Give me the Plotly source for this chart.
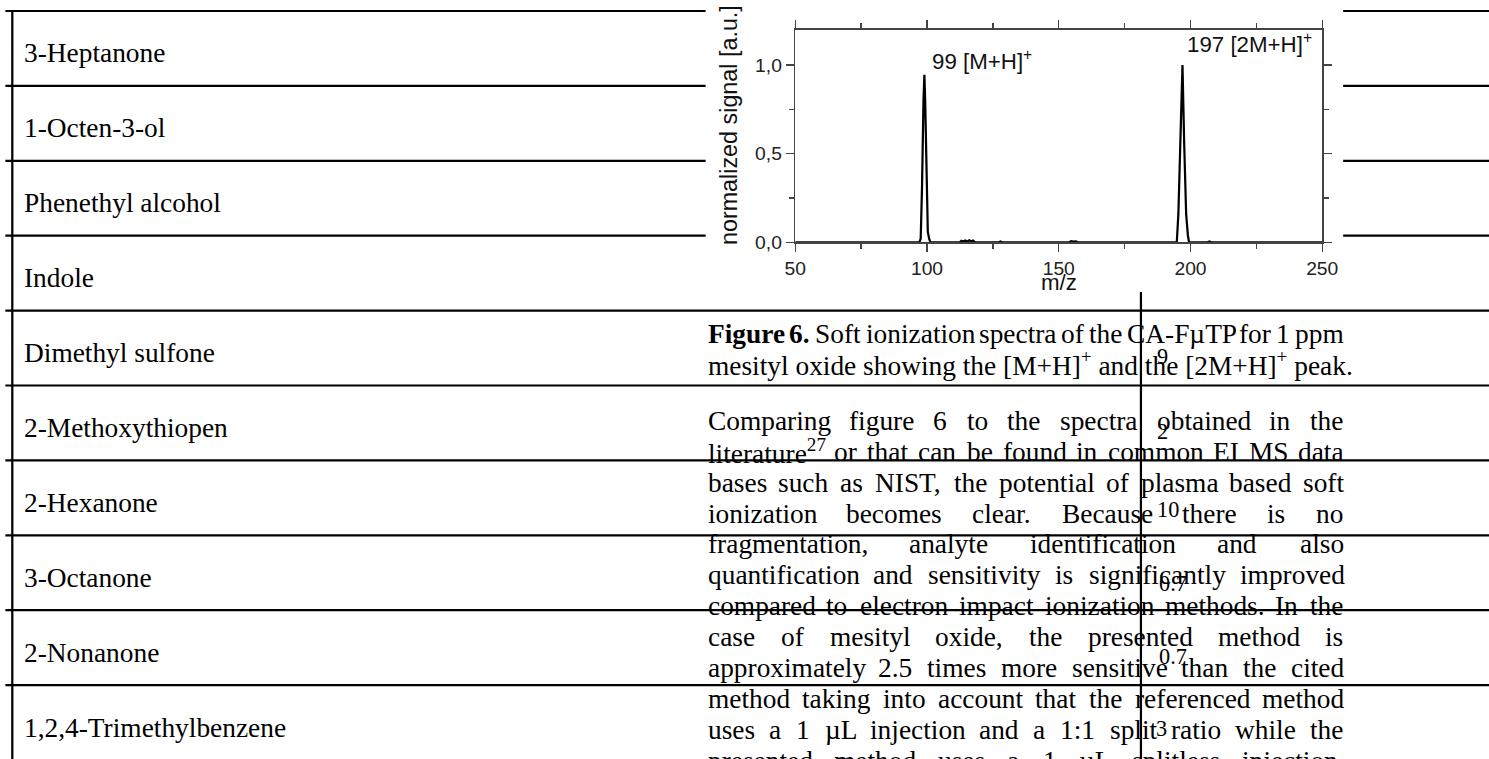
import re
import plotly.graph_objects as go

# ---------------- data ----------------
mz = [50, 57.5, 58.5, 59.5, 60.5, 97.1, 97.6, 98.1, 98.65, 99.0, 99.3, 99.65, 100.0, 100.3,
      100.8, 101.3, 112.5, 113.0, 113.8, 114.5, 115.3, 116.0, 116.8, 117.5, 118.2, 127.3,
      127.9, 128.5, 154.0, 154.7, 155.6, 156.5, 157.2, 194.8, 195.4, 196.05, 196.96, 197.6,
      198.35, 199.0, 199.45, 206.5, 207.2, 207.9, 212.8, 213.4, 214.0, 218.6, 219.2, 219.8, 250]
signal = [0.0, 0.0, 0.004, 0.004, 0.0, 0.0, 0.02, 0.31, 0.80, 0.945, 0.80, 0.55, 0.20, 0.06,
          0.02, 0.0, 0.0, 0.008, 0.004, 0.010, 0.005, 0.011, 0.006, 0.010, 0.0, 0.0,
          0.005, 0.0, 0.0, 0.006, 0.004, 0.005, 0.0, 0.0, 0.16, 0.56, 1.0, 0.56,
          0.16, 0.04, 0.0, 0.0, 0.005, 0.0, 0.0, 0.003, 0.0, 0.0, 0.003, 0.0, 0.0]

peak_labels = ["99 [M+H]<sup>+</sup>", "197 [2M+H]<sup>+</sup>"]
peak_label_x = [101.0, 197.8]
peak_label_y = [0.94, 1.036]

x_title = "m/z"
y_title = "normalized signal [a.u.]"

table_labels = ["3-Heptanone", "1-Octen-3-ol", "Phenethyl alcohol", "Indole",
                "Dimethyl sulfone", "2-Methoxythiopen", "2-Hexanone", "3-Octanone",
                "2-Nonanone", "1,2,4-Trimethylbenzene"]

caption_lines = [
    "<b>Figure</b> <b>6.</b> Soft ionization spectra of the CA-FµTP for 1 ppm",
    "mesityl oxide showing the [M+H]<sup>+</sup> and the [2M+H]<sup>+</sup> peak.",
]
caption_justify = [True, False]

para_lines = [
    "Comparing figure 6 to the spectra obtained in the",
    "literature<sup>27</sup> or that can be found in common EI MS data",
    "bases such as NIST, the potential of plasma based soft",
    "ionization becomes clear. Because there is no",
    "fragmentation, analyte identification and also",
    "quantification and sensitivity is significantly improved",
    "compared to electron impact ionization methods. In the",
    "case of mesityl oxide, the presented method is",
    "approximately 2.5 times more sensitive than the cited",
    "method taking into account that the referenced method",
    "uses a 1 µL injection and a 1:1 split ratio while the",
    "presented method uses a 1 µL splitless injection.",
]

stray_values = ["9", "2", "10", "0.7", "0.7", "3"]

# ---------------- page geometry ----------------
# The page is captured 11 px taller than the window and fitted back into 1489x759,
# so everything is laid out in reference pixels and mapped through that fit.
REF_W, REF_H = 1489, 759
FW, FH = 1489, 770
S = REF_H / FH
OX = (FW - FW * S) / 2


def px(x):
    return ((x - OX) / S) / FW


def py(y):
    return 1 - (y / S) / FH


def sz(v):
    return v / S


TR = {' ': 250, ',': 250, '-': 333, '.': 250, '/': 278, ':': 278, '+': 564, '[': 333, ']': 333,
      '(': 333, ')': 333, 'µ': 500,
      'A': 722, 'B': 667, 'C': 667, 'D': 722, 'E': 611, 'F': 556, 'G': 722, 'H': 722, 'I': 333,
      'J': 389, 'K': 722, 'L': 611, 'M': 889, 'N': 722, 'O': 722, 'P': 556, 'Q': 722, 'R': 667,
      'S': 556, 'T': 611, 'U': 722, 'V': 722, 'W': 944, 'X': 722, 'Y': 722, 'Z': 611,
      'a': 444, 'b': 500, 'c': 444, 'd': 500, 'e': 444, 'f': 333, 'g': 500, 'h': 500, 'i': 278,
      'j': 278, 'k': 500, 'l': 278, 'm': 778, 'n': 500, 'o': 500, 'p': 500, 'q': 500, 'r': 333,
      's': 389, 't': 278, 'u': 500, 'v': 500, 'w': 722, 'x': 500, 'y': 500, 'z': 444}
TB = {'F': 611, 'i': 278, 'g': 500, 'u': 556, 'r': 444, 'e': 444, '6': 500, '.': 250, ' ': 250}


def word_width(w, size):
    total = 0.0
    mode = 'r'
    for tok in re.split(r'(<[^>]+>)', w):
        if tok.startswith('<'):
            if tok == '<b>':
                mode = 'b'
            elif tok == '<sup>':
                mode = 's'
            else:
                mode = 'r'
            continue
        for ch in tok:
            if mode == 'b':
                total += TB.get(ch, 500) * size / 1000
            elif mode == 's':
                total += TR.get(ch, 500) * size * 0.7 / 1000
            else:
                total += TR.get(ch, 500) * size / 1000
    return total


SERIF = "Liberation Serif, Times New Roman, serif"
SANS = "Liberation Sans, Arial, sans-serif"
FS = 27
annotations = []
shapes = []


def add_text(x, baseline, text, size=FS, family=SERIF):
    annotations.append(dict(
        x=px(x), y=py(baseline - 0.3375 * size), xref="paper", yref="paper",
        text=text, showarrow=False, xanchor="left", yanchor="middle",
        font=dict(family=family, size=sz(size), color="black"), borderpad=0))


def add_line(baseline, line, left, right, justify):
    words = line.split(" ")
    if not justify or len(words) == 1:
        add_text(left, baseline, line)
        return
    widths = [word_width(w, FS) for w in words]
    gap = (right - left - sum(widths)) / (len(words) - 1)
    pos = left
    for w, wd in zip(words, widths):
        add_text(pos, baseline, w)
        pos += wd + gap


def hline(y, x0, x1, w=2.2):
    shapes.append(dict(type="line", xref="paper", yref="paper", x0=px(x0), x1=px(x1),
                       y0=py(y), y1=py(y), line=dict(color="black", width=sz(w))))


def vline(x, y0, y1, w=2.2):
    shapes.append(dict(type="line", xref="paper", yref="paper", x0=px(x), x1=px(x),
                       y0=py(y0), y1=py(y1), line=dict(color="black", width=sz(w))))


# ---------------- page structure ----------------
row_top = 11
row_h = 74.9
RIGHT = REF_W + 20
for k in range(10):
    y = row_top + row_h * k
    if y < 290:
        hline(y, 5, 708)
        hline(y, 1348, RIGHT)
    else:
        hline(y, 5, RIGHT)
vline(max(9, OX + 1.3), 11, REF_H + 20)
vline(1145, 292, REF_H + 20)

for k, lab in enumerate(table_labels):
    add_text(23, row_top + row_h * k + 51.6, lab)

COL_L, COL_R = 709, 1347
cap_base = [342.7, 372.2]
for b, line, j in zip(cap_base, caption_lines, caption_justify):
    add_line(b, line, COL_L, COL_R, j)

for k, line in enumerate(para_lines):
    add_line(430 + 30.9 * k, line, COL_L, COL_R, True)

stray_x = [1160, 1160, 1160, 1162, 1162, 1159]
stray_y = [357, 432, 510, 584, 656, 728]
for sx, sy, sv in zip(stray_x, stray_y, stray_values):
    annotations.append(dict(x=px(sx), y=py(sy), xref="paper", yref="paper", text=sv,
                            showarrow=False, xanchor="left", yanchor="middle",
                            font=dict(family=SERIF, size=sz(22), color="black"), borderpad=0))

# ---------------- chart ----------------
X0, X1 = 798, 1327
Y_TOP, Y_BOT = 29.5, 242.3

fig = go.Figure()
fig.add_trace(go.Scatter(x=mz, y=signal, mode="lines",
                         line=dict(color="black", width=sz(2.2)), cliponaxis=False,
                         hoverinfo="skip", showlegend=False))

for t, xx, yy in zip(peak_labels, peak_label_x, peak_label_y):
    annotations.append(dict(x=xx, y=yy, xref="x", yref="y", text=t, showarrow=False,
                            xanchor="left", yanchor="bottom",
                            font=dict(family=SANS, size=sz(22), color="#111")))

annotations.append(dict(x=px((X0 + X1) / 2), y=py(283), xref="paper", yref="paper",
                        text=x_title, showarrow=False, xanchor="center", yanchor="middle",
                        font=dict(family=SANS, size=sz(22), color="#111")))
annotations.append(dict(x=px(731), y=py(125.5), xref="paper", yref="paper",
                        text=y_title, showarrow=False, textangle=-90,
                        xanchor="center", yanchor="middle",
                        font=dict(family=SANS, size=sz(23), color="#111")))

axis_common = dict(showline=True, linecolor="#444", linewidth=sz(1.4), mirror="allticks",
                   ticks="outside", ticklen=sz(8), tickwidth=sz(1.4), tickcolor="#444",
                   showgrid=False, zeroline=False,
                   tickfont=dict(family=SANS, size=sz(19), color="#222"))
minor_common = dict(ticks="outside", ticklen=sz(5), tickwidth=sz(1.4), tickcolor="#444")

fig.update_layout(
    width=FW, height=FH, autosize=False,
    margin=dict(l=0, r=0, t=0, b=0, pad=0),
    paper_bgcolor="white", plot_bgcolor="white",
    separators=",.",
    hovermode=False,
    xaxis=dict(domain=[px(X0), px(X1)], range=[50, 250], tick0=50, dtick=50,
               minor=dict(tick0=50, dtick=25, **minor_common), **axis_common),
    yaxis=dict(domain=[py(Y_BOT), py(Y_TOP)], range=[0, 1.2], tick0=0, dtick=0.5,
               tickformat=".1f", minor=dict(tick0=0, dtick=0.25, **minor_common),
               **axis_common),
    shapes=shapes,
    annotations=annotations,
    showlegend=False,
)

page_css = (
    "document.documentElement.style.cssText='margin:0;padding:0;overflow:hidden;';"
    "document.body.style.cssText='margin:0;padding:0;overflow:hidden;';"
    "var d=document.getElementById('{plot_id}');"
    "d.style.position='fixed';d.style.left='0px';d.style.top='0px';"
)

fig.write_html("out.html", config={"displayModeBar": False, "staticPlot": True},
               post_script=page_css)
